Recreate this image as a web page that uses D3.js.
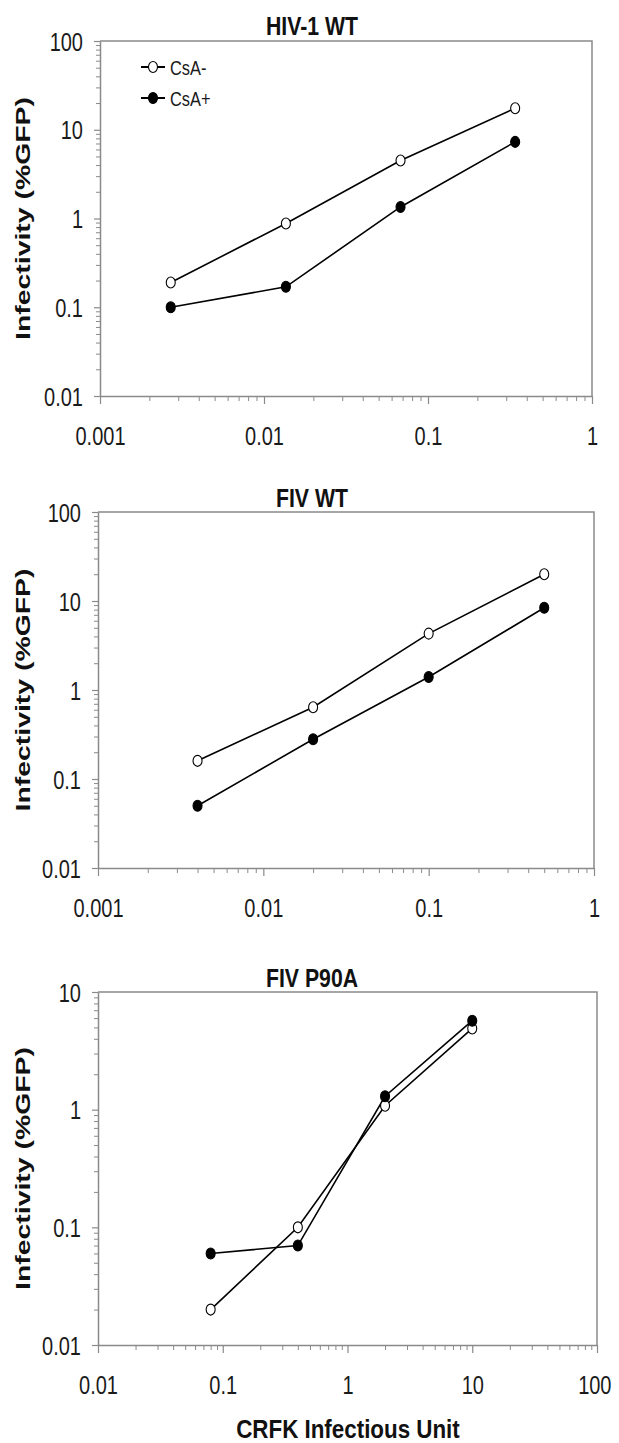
<!DOCTYPE html>
<html>
<head>
<meta charset="utf-8">
<script src="https://cdn.jsdelivr.net/npm/d3@7"></script>
<style>
  body { margin: 0; background: #fff; }
  .tick text { font-family: "Liberation Sans", Arial, sans-serif; font-size: 25px; fill: #1a1a1a; }
  .ttl { font-family: "Liberation Sans", Arial, sans-serif; font-weight: bold; fill: #111; }
</style>
</head>
<body>
<div id="chart"></div>
<script>
// values
const seriesNames = ["CsA-", "CsA+"];

const hivX = [0.0027, 0.0136, 0.068, 0.34];
const hivMinus = [0.19, 0.88, 4.5, 17.5];
const hivPlus = [0.10, 0.17, 1.35, 7.3];

const fivX = [0.004, 0.02, 0.1, 0.5];
const fivMinus = [0.16, 0.64, 4.3, 20];
const fivPlus = [0.05, 0.28, 1.4, 8.4];

const p90aX = [0.08, 0.4, 2, 10];
const p90aMinus = [0.02, 0.1, 1.08, 4.9];
const p90aPlus = [0.06, 0.07, 1.3, 5.7];

const xTicksA = [0.001, 0.01, 0.1, 1];
const xLabelsA = ["0.001", "0.01", "0.1", "1"];
const xTicksB = [0.01, 0.1, 1, 10, 100];
const xLabelsB = ["0.01", "0.1", "1", "10", "100"];
const yTicksA = [0.01, 0.1, 1, 10, 100];
const yLabelsA = ["0.01", "0.1", "1", "10", "100"];
const yTicksB = [0.01, 0.1, 1, 10];
const yLabelsB = ["0.01", "0.1", "1", "10"];

const width = 619, height = 1443;

const panels = [
  { title: "HIV-1 WT", xs: hivX, minus: hivMinus, plus: hivPlus,
    xt: xTicksA, xl: xLabelsA, yt: yTicksA, yl: yLabelsA,
    left: 100, right: 592, top: 41, bottom: 396, titleY: 35, legend: true },
  { title: "FIV WT", xs: fivX, minus: fivMinus, plus: fivPlus,
    xt: xTicksA, xl: xLabelsA, yt: yTicksA, yl: yLabelsA,
    left: 98, right: 594, top: 512, bottom: 868, titleY: 507 },
  { title: "FIV P90A", xs: p90aX, minus: p90aMinus, plus: p90aPlus,
    xt: xTicksB, xl: xLabelsB, yt: yTicksB, yl: yLabelsB,
    left: 98, right: 597, top: 992, bottom: 1345, titleY: 987 }
];

const svg = d3.select("#chart").append("svg")
  .attr("width", width)
  .attr("height", height);

// the original uses a narrow face, squeeze the regular one instead
const condense = (sel, ratio) => {
  sel.each(function () {
    let w = this.getComputedTextLength();
    d3.select(this)
      .attr("textLength", w * ratio)
      .attr("lengthAdjust", "spacingAndGlyphs");
  });
};

// minor ticks 2..9 in every decade of a domain
const minorTicks = (lo, hi) => {
  let out = [];
  for (let p = lo; p < hi; p *= 10) {
    for (let k = 2; k <= 9; k++) out.push(p * k);
  }
  return out;
};

const drawMarker = (g, pts, filled) => {
  g.selectAll(null)
    .data(pts)
    .enter()
    .append("ellipse")
    .attr("cx", d => d[0])
    .attr("cy", d => d[1])
    .attr("rx", 4.5)
    .attr("ry", 5.5)
    .style("fill", filled ? "#000" : "#fff")
    .style("stroke", "#000")
    .style("stroke-width", 1.1);
};

panels.forEach((p) => {
  let xLo = p.xt[0], xHi = p.xt[p.xt.length - 1];
  let yLo = p.yt[0], yHi = p.yt[p.yt.length - 1];

  let xScale = d3.scaleLog().domain([xLo, xHi]).range([p.left, p.right]);
  let yScale = d3.scaleLog().domain([yLo, yHi]).range([p.bottom, p.top]);

  let g = svg.append("g");

  // frame top + right
  g.append("path")
    .attr("d", `M${p.left},${p.top}H${p.right}V${p.bottom}`)
    .style("fill", "none")
    .style("stroke", "#8a8a8a")
    .style("stroke-width", 1.5);

  // minor ticks
  g.append("g")
    .attr("transform", "translate(0," + p.bottom + ")")
    .call(d3.axisBottom(xScale).tickValues(minorTicks(xLo, xHi)).tickSize(5).tickFormat(""))
    .call(a => a.select(".domain").remove())
    .selectAll("line").style("stroke", "#8a8a8a");

  g.append("g")
    .attr("transform", "translate(" + p.left + ",0)")
    .call(d3.axisLeft(yScale).tickValues(minorTicks(yLo, yHi)).tickSize(4).tickFormat(""))
    .call(a => a.select(".domain").remove())
    .selectAll("line").style("stroke", "#8a8a8a");

  // major axes
  let xAxis = g.append("g")
    .attr("transform", "translate(0," + p.bottom + ")")
    .call(d3.axisBottom(xScale).tickValues(p.xt).tickSize(8).tickSizeOuter(0)
      .tickFormat((d, i) => p.xl[i]));
  xAxis.selectAll("text").attr("y", 49).attr("dy", 0).call(condense, 0.8);
  // keep the last label inside the page
  xAxis.selectAll("text")
    .filter(d => xScale(d) > 595)
    .style("text-anchor", "end")
    .attr("x", 14);

  let yAxis = g.append("g")
    .attr("transform", "translate(" + p.left + ",0)")
    .call(d3.axisLeft(yScale).tickValues(p.yt).tickSize(6).tickSizeOuter(0)
      .tickFormat((d, i) => p.yl[i]));
  yAxis.selectAll("text").attr("x", -17).attr("dy", "0.36em").call(condense, 0.8);

  [xAxis, yAxis].forEach(a => {
    a.select(".domain").style("stroke", "#8a8a8a").style("stroke-width", 1.5);
    a.selectAll(".tick line").style("stroke", "#8a8a8a").style("stroke-width", 1.2);
  });

  // title
  g.append("text")
    .attr("class", "ttl")
    .attr("x", 312)
    .attr("y", p.titleY)
    .style("font-size", "25px")
    .style("text-anchor", "middle")
    .text(p.title)
    .call(condense, 0.85);

  // y axis title
  let mid = (p.top + p.bottom) / 2;
  g.append("text")
    .attr("transform", "translate(30," + mid + ") rotate(-90)")
    .style("font-family", "'Liberation Sans', Arial, sans-serif")
    .style("font-weight", "bold")
    .style("font-size", "21px")
    .style("text-anchor", "middle")
    .attr("textLength", 243)
    .attr("lengthAdjust", "spacingAndGlyphs")
    .style("fill", "#111")
    .text("Infectivity (%GFP)");

  let line = d3.line().x(d => d[0]).y(d => d[1]);
  let ptsMinus = p.xs.map((x, i) => [xScale(x), yScale(p.minus[i])]);
  let ptsPlus = p.xs.map((x, i) => [xScale(x), yScale(p.plus[i])]);

  [ptsMinus, ptsPlus].forEach(pts => {
    g.append("path")
      .attr("d", line(pts))
      .style("fill", "none")
      .style("stroke", "#000")
      .style("stroke-width", 1.6);
  });
  drawMarker(g, ptsMinus, false);
  drawMarker(g, ptsPlus, true);

  if (p.legend) {
    let legend = g.append("g").attr("id", "legend")
      .selectAll("g")
      .data(seriesNames)
      .enter()
      .append("g")
      .attr("transform", (d, i) => "translate(153," + (67 + i * 31) + ")");

    legend.append("line")
      .attr("x1", -12).attr("x2", 12)
      .style("stroke", "#000").style("stroke-width", 2);
    legend.append("ellipse")
      .attr("rx", 4.5).attr("ry", 5.5)
      .style("fill", (d, i) => i ? "#000" : "#fff")
      .style("stroke", "#000").style("stroke-width", 1.1);
    legend.append("text")
      .attr("x", 17)
      .attr("dy", "0.36em")
      .style("font-family", "'Liberation Sans', Arial, sans-serif")
      .style("font-size", "21px")
      .style("fill", "#1a1a1a")
      .text(d => d)
      .call(condense, 0.78);
  }
});

svg.append("text")
  .attr("class", "ttl")
  .attr("x", 348)
  .attr("y", 1438)
  .style("font-size", "26px")
  .style("text-anchor", "middle")
  .text("CRFK Infectious Unit")
  .call(condense, 0.86);
</script>
</body>
</html>
